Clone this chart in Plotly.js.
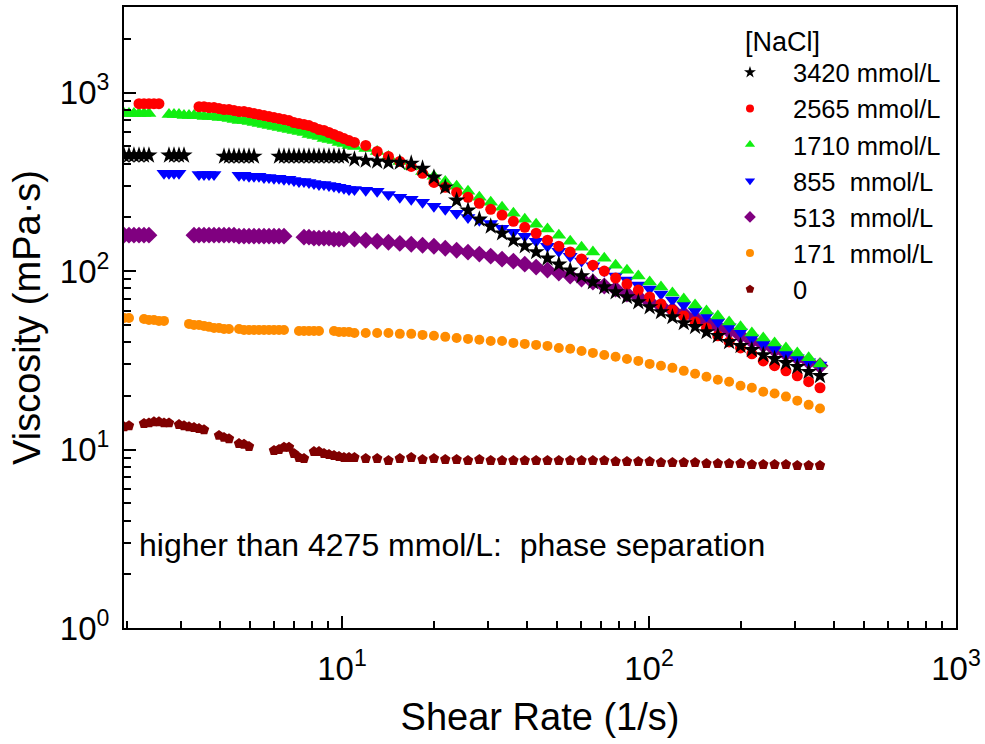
<!DOCTYPE html>
<html>
<head>
<meta charset="utf-8">
<script src="https://cdn.plot.ly/plotly-3.0.1.min.js"></script>
<style>html,body{margin:0;padding:0;background:#fff;}#chart{width:985px;height:744px;}</style>
</head>
<body>
<div id="chart"></div>
<script>
// Shear rate (1/s): dense low-rate readings followed by log-spaced readings
const SHEAR_RATE = [
  1.950, 2.024, 2.101, 2.182, 2.265, 2.351, 2.441, 2.534, 2.632, 2.732,
  2.837, 2.945, 3.058, 3.175, 3.296, 3.422, 3.553, 3.689, 3.830, 3.976,
  4.128, 4.285, 4.449, 4.619, 4.796, 4.979, 5.169, 5.366, 5.572, 5.784,
  6.005, 6.235, 6.473, 6.720, 6.976, 7.243, 7.520, 7.807, 8.105, 8.415,
  8.737, 9.071, 9.417, 9.777, 10.15, 10.54,
  10.98, 11.95, 13.02, 14.17, 15.43, 16.81, 18.30, 19.93, 21.70, 23.63,
  25.73, 28.02, 30.51, 33.22, 36.17, 39.39, 42.89, 46.70, 50.86, 55.38,
  60.30, 65.66, 71.50, 77.85, 84.77, 92.31, 100.5, 109.4, 119.2, 129.8,
  141.3, 153.9, 167.6, 182.4, 198.7, 216.3, 235.6, 256.5, 279.3, 304.1,
  331.2, 360.6
];

const SERIES_NAMES = ['3420 mmol/L', '2565 mmol/L', '1710 mmol/L', '855\u00a0 mmol/L', '513\u00a0 mmol/L', '171\u00a0 mmol/L', '0'];
const LEGEND_TITLE = '[NaCl]';

// Viscosity (mPa·s); null = no reading shown
const V_3420 = [
  445, 445, 445, 445, 445, 445, null, null, null, 445,
  445, 445, 445, null, null, null, null, null, null, null,
  439, 439, 439, 439, 439, 439, 439, null, null, null,
  null, 439, 439, 439, 439, 439, 439, 439, 439, 439,
  439, 439, 439, 439, 439, null,
  423, 417, 412, 406, 406, 401, 376, 335, 295, 249,
  219, 195, 178, 163, 149, 138, 128, 118, 109, 101,
  93.8, 86.8, 81.4, 76.3, 71.6, 67.1, 62.9, 59.0, 55.3, 51.2,
  48.7, 45.6, 43.4, 40.1, 38.1, 36.2, 33.9, 32.2, 30.6, 29.1,
  27.3, 25.9
];
const V_2565 = [
  null, null, null, 868, 868, 868, 868, 868, null, null,
  null, null, null, null, null, 835, 835, 825, 825, 814,
  804, 804, 794, 783, 783, 773, 764, 754, 744, 735,
  725, 716, 707, 698, 680, 671, 663, 654, 638, 621,
  614, 598, 583, 568, 553, 539,
  526, 506, 468, 439, 412, 386, 353, 314, 295, 276,
  259, 240, 222, 206, 190, 176, 163, 149, 138, 128,
  117, 108, 100, 91.4, 84.6, 78.3, 71.6, 65.4, 60.5, 56.1,
  51.9, 48.0, 43.4, 40.1, 37.1, 34.4, 31.4, 29.5, 27.6, 25.9,
  24.0, 22.2
];
const V_1710 = [
  764, 764, 764, 764, 764, 764, null, null, null, 754,
  754, 754, 744, 744, 744, 744, 735, 735, 735, 725,
  725, 716, 707, 698, 698, 689, 680, 671, 663, 654,
  646, 638, 630, 621, 614, 606, 598, 583, 575, 568,
  553, 546, 540, 526, 519, 506,
  499, 487, 468, 439, 412, 386, 362, 340, 318, 299,
  280, 259, 243, 228, 211, 195, 183, 172, 159, 147,
  136, 128, 118, 108, 101, 93.8, 86.8, 81.4, 75.4, 69.8,
  64.6, 59.8, 56.1, 51.9, 48.7, 45.0, 42.2, 39.6, 37.1, 34.8,
  32.7, 30.2
];
const V_855 = [
  null, null, null, null, null, null, null, null, 353, 353,
  353, 353, null, null, null, 348, 348, 348, 348, null,
  null, null, null, 344, 344, 340, 340, 340, 335, 335,
  331, 331, 327, 327, 322, 318, 318, 314, 310, 306,
  306, 302, 299, 295, 291, 287,
  287, 284, 280, 269, 259, 253, 243, 231, 222, 211,
  200, 193, 185, 174, 165, 157, 147, 138, 129, 121,
  114, 107, 100, 93.8, 89.1, 83.5, 79.3, 74.4, 68.9, 64.6,
  59.8, 56.1, 51.9, 48.7, 45.6, 42.2, 39.1, 36.7, 34.4, 32.7,
  31.0, 29.8
];
const V_513 = [
  159, 159, 159, 159, 159, 159, null, null, null, null,
  null, null, null, null, 159, 159, 159, 159, 159, 159,
  159, 159, 159, 157, 157, 157, 157, 157, 157, 157,
  157, 157, 157, null, null, null, 155, 155, 153, 153,
  153, 153, 151, 151, 151, null,
  151, 149, 147, 145, 143, 141.5, 139.7, 137.9, 134.4, 131,
  127.7, 124.5, 121.3, 116.7, 113.7, 109.4, 105.3, 101.3, 97.5, 93.8,
  90.2, 86.8, 82.5, 79.3, 74.4, 71.6, 67.1, 63.7, 60.5, 57.5,
  54.6, 51.9, 48.7, 46.2, 43.4, 40.6, 38.6, 36.2, 34.4, 32.7,
  31.0, 29.5
];
const V_171 = [
  54.6, 54.6, null, null, 53.9, 53.2, 53.2, 52.6, 52.6, null,
  null, null, null, 50.6, 49.9, 49.9, 49.3, 48.7, 48.0, 48.0,
  47.4, 47.4, null, 47.4, 46.8, 46.8, 46.8, 46.8, 46.8, 46.8,
  46.8, 46.8, 46.8, null, null, 46.2, 46.2, 46.2, 46.2, 46.2,
  null, null, 46.2, 45.6, 45.6, 45.6,
  45.0, 45.0, 45.0, 45.0, 44.5, 44.5, 43.9, 43.4, 42.8, 42.2,
  41.7, 41.2, 40.6, 40.6, 39.6, 39.1, 38.6, 38.1, 37.1, 36.7,
  35.7, 34.8, 33.9, 33.1, 32.2, 31.4, 30.2, 29.5, 28.7, 27.6,
  26.6, 25.6, 24.6, 24.0, 22.8, 22.2, 21.1, 20.6, 19.8, 18.8,
  17.8, 17.0
];
const V_0 = [
  13.4, 13.6, null, null, 14.0, 14.1, 14.3, 14.3, 14.1, 14.1,
  null, 13.8, 13.6, 13.4, 13.3, 13.1, 12.9, null, null, 12.0,
  11.7, 11.5, null, 10.8, 10.7, 10.4, null, null, null, null,
  9.87, 10.0, 10.3, 10.3, 9.50, 9.02, 8.91, null, 9.74, 9.74,
  9.50, 9.38, 9.26, 9.14, 9.02, 9.02,
  9.02, 8.91, 8.91, 8.68, 8.91, 9.02, 8.79, 8.91, 8.79, 8.79,
  8.68, 8.79, 8.68, 8.68, 8.68, 8.68, 8.68, 8.68, 8.68, 8.68,
  8.68, 8.68, 8.68, 8.57, 8.57, 8.57, 8.57, 8.46, 8.46, 8.46,
  8.46, 8.35, 8.35, 8.35, 8.35, 8.25, 8.25, 8.25, 8.25, 8.14,
  8.14, 8.14
];

const X_TICKS = [10, 100, 1000];
const X_TICKTEXT = ['10<sup>1</sup>', '10<sup>2</sup>', '10<sup>3</sup>'];
const Y_TICKS = [1, 10, 100, 1000];
const Y_TICKTEXT = ['10<sup>0</sup>', '10<sup>1</sup>', '10<sup>2</sup>', '10<sup>3</sup>'];

const FONT = 'Liberation Sans, Arial, Helvetica, sans-serif';

const styles = [
  {v: V_3420, name: SERIES_NAMES[0], symbol: 'star', color: '#000000', size: 13, lsize: 9},
  {v: V_2565, name: SERIES_NAMES[1], symbol: 'circle', color: '#ff0000', size: 11, lsize: 8},
  {v: V_1710, name: SERIES_NAMES[2], symbol: 'triangle-up', color: '#11ee11', size: 13, lsize: 9},
  {v: V_855,  name: SERIES_NAMES[3], symbol: 'triangle-down', color: '#0000ff', size: 13, lsize: 9},
  {v: V_513,  name: SERIES_NAMES[4], symbol: 'diamond', color: '#800080', size: 13, lsize: 9},
  {v: V_171,  name: SERIES_NAMES[5], symbol: 'circle', color: '#ff8c00', size: 10, lsize: 8},
  {v: V_0,    name: SERIES_NAMES[6], symbol: 'pentagon', color: '#800000', size: 11, lsize: 9}
];

// data traces: lowest concentration drawn first so 3420 ends on top
const dataTraces = styles.slice().reverse().map(s => ({
  type: 'scatter',
  mode: 'markers',
  x: SHEAR_RATE,
  y: s.v,
  name: s.name,
  showlegend: false,
  marker: {symbol: s.symbol, color: s.color, size: s.size, line: {width: 0}},
  cliponaxis: true
}));
// legend-only entries (small symbols as in the original legend)
const legendTraces = styles.map(s => ({
  type: 'scatter',
  mode: 'markers',
  x: [null],
  y: [null],
  name: s.name,
  showlegend: true,
  marker: {symbol: s.symbol, color: s.color, size: s.lsize, line: {width: 0}}
}));

const axisCommon = {
  type: 'log',
  showline: true,
  linecolor: '#000',
  linewidth: 2,
  mirror: true,
  ticks: 'inside',
  ticklen: 12,
  tickwidth: 2,
  tickcolor: '#000',
  showgrid: false,
  zeroline: false,
  tickmode: 'array',
  tickfont: {family: FONT, size: 33, color: '#000'},
  minor: {ticks: 'inside', ticklen: 7, tickwidth: 2, tickcolor: '#000', dtick: 'D1', showgrid: false}
};

const layout = {
  width: 985,
  height: 744,
  margin: {l: 124, r: 29, t: 7, b: 116},
  paper_bgcolor: '#fff',
  plot_bgcolor: '#fff',
  font: {family: FONT, color: '#000'},
  showlegend: true,
  xaxis: Object.assign({}, axisCommon, {
    range: [0.29, 3],
    tickvals: X_TICKS,
    ticktext: X_TICKTEXT,
    ticklabelstandoff: 10,
    title: {text: 'Shear Rate (1/s)', font: {family: FONT, size: 38, color: '#000'}, standoff: 18}
  }),
  yaxis: Object.assign({}, axisCommon, {
    range: [0, 3.48],
    tickvals: Y_TICKS,
    ticktext: Y_TICKTEXT,
    ticklabelstandoff: 6,
    title: {text: 'Viscosity (mPa·s)', font: {family: FONT, size: 38, color: '#000'}, standoff: 8}
  }),
  legend: {
    x: 0.7007, y: 0.932, xanchor: 'left', yanchor: 'top',
    bgcolor: 'rgba(0,0,0,0)',
    borderwidth: 0,
    traceorder: 'normal',
    font: {family: FONT, size: 25.5, color: '#000'},
    itemwidth: 76
  },
  annotations: [
    {
      xref: 'paper', yref: 'paper',
      x: 0.744, y: 0.9436, xanchor: 'left', yanchor: 'middle',
      text: LEGEND_TITLE,
      showarrow: false,
      font: {family: FONT, size: 27, color: '#000'}
    },
    {
      xref: 'paper', yref: 'paper',
      x: 0.0156, y: 0.134, xanchor: 'left', yanchor: 'middle',
      text: 'higher than 4275 mmol/L:\u00a0 phase separation',
      showarrow: false,
      font: {family: FONT, size: 32, color: '#000'}
    }
  ]
};

Plotly.newPlot('chart', dataTraces.concat(legendTraces), layout, {displayModeBar: false, staticPlot: true});
</script>
</body>
</html>
